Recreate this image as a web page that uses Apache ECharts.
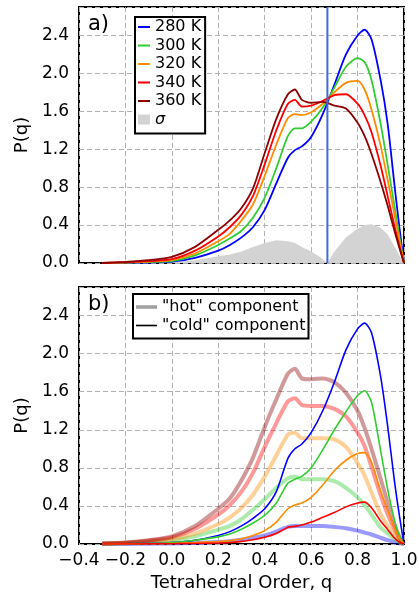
<!DOCTYPE html>
<html>
<head>
<meta charset="utf-8">
<script src="https://cdn.jsdelivr.net/npm/echarts@6/dist/echarts.min.js"></script>
<style>
html,body{margin:0;padding:0;background:#fff;}
#c{width:419px;height:593px;}
</style>
</head>
<body>
<div id="c"></div>
<script>
// ---------- data ----------
const qGrid = [-0.3,-0.2,-0.1,0.0,0.1,0.2,0.25,0.3,0.35,0.4,0.45,0.5,0.53,0.56,0.6,0.65,0.7,0.75,0.8,0.83,0.86,0.9,0.93,0.96,0.98,1.0];
// panel a) total distributions
const p280 = [0,0.002,0.005,0.014,0.055,0.13,0.19,0.27,0.38,0.56,0.84,1.11,1.19,1.23,1.33,1.57,1.88,2.20,2.40,2.46,2.36,1.92,1.46,0.80,0.38,0];
const p300 = [0,0.004,0.01,0.02,0.08,0.19,0.26,0.34,0.48,0.69,1.00,1.34,1.42,1.42,1.49,1.64,1.85,2.07,2.16,2.12,1.93,1.46,1.03,0.58,0.28,0];
const p320 = [0,0.006,0.015,0.03,0.10,0.23,0.31,0.45,0.62,0.92,1.25,1.53,1.57,1.56,1.59,1.68,1.80,1.90,1.92,1.83,1.62,1.23,0.87,0.50,0.24,0];
const p340 = [0,0.008,0.02,0.04,0.13,0.28,0.38,0.51,0.71,1.04,1.40,1.68,1.72,1.65,1.66,1.71,1.77,1.78,1.68,1.56,1.38,1.02,0.70,0.38,0.18,0];
const p360 = [0,0.012,0.03,0.065,0.17,0.35,0.45,0.58,0.79,1.16,1.52,1.78,1.83,1.72,1.69,1.70,1.66,1.63,1.48,1.34,1.15,0.85,0.60,0.33,0.16,0];
const sigQ = [-0.3,-0.2,-0.1,0.0,0.1,0.2,0.25,0.3,0.35,0.4,0.45,0.5,0.53,0.56,0.6,0.64,0.67,0.7,0.75,0.8,0.83,0.86,0.9,0.93,0.96,0.98,1.0];
const sigma = [0,0,0.002,0.008,0.03,0.07,0.09,0.12,0.17,0.21,0.24,0.23,0.21,0.17,0.12,0.06,0.0,0.12,0.27,0.36,0.40,0.41,0.37,0.30,0.17,0.08,0];
const qMark = [0.67, 0.67];
const markY = [0, 2.7];
// panel b) "hot" components
const hot280 = [0,0.001,0.003,0.006,0.01,0.02,0.03,0.045,0.065,0.09,0.13,0.18,0.19,0.19,0.19,0.19,0.18,0.165,0.14,0.12,0.10,0.065,0.04,0.02,0.008,0];
const hot300 = [0.002,0.008,0.02,0.04,0.08,0.15,0.19,0.26,0.36,0.47,0.59,0.69,0.71,0.68,0.68,0.68,0.66,0.59,0.49,0.41,0.31,0.17,0.11,0.05,0.02,0];
const hot320 = [0.003,0.01,0.025,0.05,0.11,0.21,0.28,0.38,0.52,0.71,0.93,1.15,1.17,1.11,1.11,1.11,1.10,1.02,0.85,0.72,0.54,0.31,0.19,0.08,0.03,0];
const hot340 = [0.004,0.012,0.035,0.07,0.16,0.31,0.41,0.55,0.75,1.02,1.27,1.50,1.53,1.46,1.45,1.45,1.42,1.34,1.17,1.03,0.81,0.51,0.31,0.15,0.06,0];
const hot360 = [0.005,0.015,0.04,0.08,0.19,0.37,0.48,0.67,0.91,1.23,1.52,1.79,1.84,1.74,1.73,1.74,1.70,1.59,1.40,1.22,1.00,0.68,0.43,0.19,0.08,0];
// panel b) "cold" components
const cold280 = [0,0.003,0.007,0.015,0.04,0.09,0.13,0.19,0.27,0.37,0.55,0.90,1.00,1.05,1.17,1.40,1.70,2.04,2.26,2.32,2.22,1.75,1.23,0.64,0.30,0];
const cold300 = [0,0.002,0.006,0.015,0.04,0.075,0.105,0.155,0.22,0.30,0.43,0.64,0.68,0.71,0.80,0.99,1.20,1.39,1.56,1.61,1.49,0.97,0.57,0.24,0.09,0];
const cold320 = [0,0.001,0.003,0.006,0.015,0.025,0.035,0.055,0.09,0.14,0.23,0.37,0.41,0.43,0.49,0.62,0.77,0.88,0.95,0.96,0.86,0.55,0.35,0.16,0.06,0];
const cold340 = [0,0,0.001,0.003,0.006,0.01,0.015,0.028,0.045,0.07,0.11,0.175,0.185,0.20,0.23,0.28,0.33,0.39,0.43,0.44,0.38,0.24,0.15,0.06,0.02,0];
const xTicks = [-0.4,-0.2,0.0,0.2,0.4,0.6,0.8,1.0];
const yTicks = [0.0,0.4,0.8,1.2,1.6,2.0,2.4];
const tempNames = ['280 K','300 K','320 K','340 K','360 K'];
const sigmaName = 'σ';
const hotName = '"hot" component';
const coldName = '"cold" component';
const colors = ['#0000ff','#32cd32','#ff8c00','#ff0000','#8b0000'];

// ---------- build ----------
const zip = (xs, ys) => xs.map((x, i) => [x, ys[i]]);
const FONT = 'DejaVu Sans';

function xAxis(idx, showLabels) {
  return {
    type: 'value', gridIndex: idx, min: xTicks[0], max: xTicks[xTicks.length - 1], interval: 0.2,
    axisLine: {show: false}, axisTick: {show: false},
    splitLine: {show: true, lineStyle: {color: '#b0b0b0', type: [5, 3], width: 1}},
    axisLabel: {
      show: showLabels, color: '#000', fontFamily: FONT, fontSize: 17, margin: 8,
      showMinLabel: true, showMaxLabel: true, hideOverlap: false,
      formatter: v => (v < -1e-9 ? '\u2212' : '') + Math.abs(v).toFixed(1)
    },
    name: showLabels ? 'Tetrahedral Order, q' : '',
    nameLocation: 'middle', nameGap: 30,
    nameTextStyle: {color: '#000', fontFamily: FONT, fontSize: 18}
  };
}
function yAxis(idx) {
  return {
    type: 'value', gridIndex: idx, min: yTicks[0], max: 2.7, interval: 0.4,
    axisLine: {show: false}, axisTick: {show: false},
    splitLine: {show: true, lineStyle: {color: '#b0b0b0', type: [5, 3], width: 1}},
    axisLabel: {
      color: '#000', fontFamily: FONT, fontSize: 17, margin: 10,
      showMaxLabel: false, formatter: v => v.toFixed(1)
    },
    name: 'P(q)', nameLocation: 'middle', nameGap: 48, nameRotate: 90,
    nameTextStyle: {color: '#000', fontFamily: FONT, fontSize: 18}
  };
}

const series = [];
// sigma area
series.push({
  name: sigmaName, type: 'line', xAxisIndex: 0, yAxisIndex: 0, data: zip(sigQ, sigma),
  symbol: 'none', lineStyle: {width: 0, color: '#d3d3d3'}, itemStyle: {color: '#d3d3d3'},
  areaStyle: {color: '#d3d3d3', opacity: 1}, z: 1, silent: true
});
const topData = [p280, p300, p320, p340, p360];
topData.forEach((arr, i) => {
  series.push({
    name: tempNames[i], type: 'line', xAxisIndex: 0, yAxisIndex: 0, data: zip(qGrid, arr),
    symbol: 'none', smooth: 0.25, lineStyle: {width: 1.8, color: colors[i]}, itemStyle: {color: colors[i]}, z: 3
  });
});
series.push({
  name: 'marker', type: 'line', xAxisIndex: 0, yAxisIndex: 0, data: zip(qMark, markY),
  symbol: 'none', lineStyle: {width: 2, color: '#4169e1'}, z: 4
});
// bottom panel
const hotData = [hot280, hot300, hot320, hot340, hot360];
hotData.forEach((arr, i) => {
  series.push({
    name: 'hot ' + tempNames[i], type: 'line', xAxisIndex: 1, yAxisIndex: 1, data: zip(qGrid, arr),
    symbol: 'none', smooth: 0.25, lineStyle: {width: 4, color: colors[i], opacity: 0.4}, z: 2
  });
});
const coldData = [cold280, cold300, cold320, cold340];
coldData.forEach((arr, i) => {
  series.push({
    name: 'cold ' + tempNames[i], type: 'line', xAxisIndex: 1, yAxisIndex: 1, data: zip(qGrid, arr),
    symbol: 'none', smooth: 0.25, lineStyle: {width: 1.6, color: colors[i]}, z: 3
  });
});
series.push({name: hotName, type: 'line', xAxisIndex: 1, yAxisIndex: 1, data: [], symbol: 'none',
  lineStyle: {width: 3.5, color: '#a0a0a0'}, itemStyle: {color: '#a0a0a0'}});
series.push({name: coldName, type: 'line', xAxisIndex: 1, yAxisIndex: 1, data: [], symbol: 'none',
  lineStyle: {width: 1.6, color: '#000'}, itemStyle: {color: '#000'}});

const thinIcon = 'path://M0,0L12,0L12,2L0,2Z';
const hotIcon = 'path://M0,0L21,0L21,3.5L0,3.5Z';
const coldIcon = 'path://M0,0L21,0L21,1.6L0,1.6Z';
const legendText = {color: '#000', fontFamily: FONT, fontSize: 16, lineHeight: 16};
const option = {
  animation: false,
  backgroundColor: '#fff',
  grid: [
    {left: 79, top: 7, width: 325, height: 256, show: true, borderColor: '#000', borderWidth: 2, backgroundColor: 'transparent', containLabel: false, outerBoundsMode: 'none'},
    {left: 79, top: 287, width: 325, height: 257, show: true, borderColor: '#000', borderWidth: 2, backgroundColor: 'transparent', containLabel: false, outerBoundsMode: 'none'}
  ],
  xAxis: [xAxis(0, false), xAxis(1, true)],
  yAxis: [yAxis(0), yAxis(1)],
  legend: [
    {
      orient: 'vertical', left: 135, top: 17, padding: [2, 4, 6, 3], itemGap: 2.5,
      itemWidth: 12, itemHeight: 10, borderColor: '#000', borderWidth: 2, backgroundColor: '#fff',
      textStyle: legendText, selectedMode: false, symbolKeepAspect: true,
      itemStyle: {borderWidth: 0}, lineStyle: {width: 0},
      data: tempNames.map((n, i) => ({name: n, icon: thinIcon, itemStyle: {color: colors[i]}}))
        .concat([{name: sigmaName, icon: 'rect', itemStyle: {color: '#d3d3d3'}, textStyle: {fontStyle: 'italic'}}])
    },
    {
      orient: 'vertical', left: 133, top: 294, padding: [5, 3, 5, 3], itemGap: 2.5,
      itemWidth: 21, itemHeight: 10, borderColor: '#000', borderWidth: 2, backgroundColor: '#fff',
      textStyle: legendText, selectedMode: false, symbolKeepAspect: true,
      itemStyle: {borderWidth: 0}, lineStyle: {width: 0},
      data: [{name: hotName, icon: hotIcon, itemStyle: {color: '#a0a0a0'}}, {name: coldName, icon: coldIcon, itemStyle: {color: '#000'}}]
    }
  ],
  graphic: [
    {type: 'text', left: 88, top: 14, style: {text: 'a)', fontFamily: FONT, fontSize: 21, fill: '#000'}, z: 100},
    {type: 'text', left: 88, top: 294, style: {text: 'b)', fontFamily: FONT, fontSize: 21, fill: '#000'}, z: 100}
  ],
  series: series
};
const chart = echarts.init(document.getElementById('c'), null, {renderer: 'canvas'});
chart.setOption(option);
</script>
</body>
</html>
